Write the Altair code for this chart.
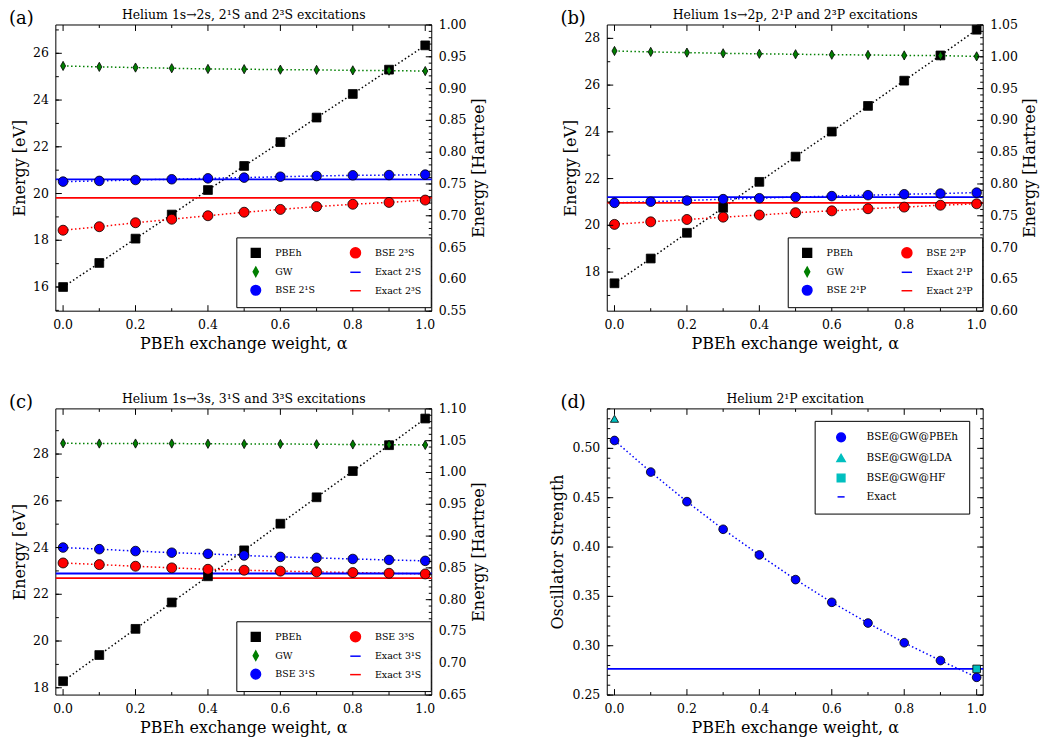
import altair as alt
import pandas as pd

HA = 27.2114
FONT = "DejaVu Serif"
W, H = 377, 287
XDOM = [-0.02, 1.018]
DIAMOND = "M0,-1L0.55,0L0,1L-0.55,0Z"
CYAN = "#00BFBF"
GREEN = "#007F00"

alpha = [0.0, 0.1, 0.2, 0.3, 0.4, 0.5, 0.6, 0.7, 0.8, 0.9, 1.0]

# ---- panel (a): 1s->2s ----
a_names = ["PBEh", "GW", "BSE 2¹S", "BSE 2³S"]
a_pbeh = [16.00, 17.03, 18.07, 19.10, 20.15, 21.18, 22.20, 23.25, 24.26, 25.30, 26.34]
a_gw = [25.46, 25.42, 25.39, 25.36, 25.33, 25.32, 25.30, 25.29, 25.27, 25.26, 25.24]
a_bse1 = [20.51, 20.54, 20.58, 20.61, 20.65, 20.68, 20.72, 20.75, 20.78, 20.79, 20.81]
a_bse3 = [18.43, 18.58, 18.75, 18.90, 19.05, 19.20, 19.32, 19.44, 19.54, 19.62, 19.72]
a_exact_names = ["Exact 2¹S", "Exact 2³S"]
a_exact = [20.61, 19.81]

# ---- panel (b): 1s->2p ----
b_names = ["PBEh", "GW", "BSE 2¹P", "BSE 2³P"]
b_pbeh = [17.52, 18.58, 19.68, 20.75, 21.86, 22.94, 24.01, 25.11, 26.19, 27.27, 28.37]
b_gw = [27.46, 27.42, 27.39, 27.36, 27.34, 27.32, 27.30, 27.29, 27.27, 27.26, 27.23]
b_bse1 = [20.96, 21.01, 21.06, 21.12, 21.16, 21.21, 21.25, 21.29, 21.33, 21.36, 21.40]
b_bse3 = [20.04, 20.15, 20.25, 20.35, 20.44, 20.54, 20.62, 20.71, 20.78, 20.86, 20.92]
b_exact_names = ["Exact 2¹P", "Exact 2³P"]
b_exact = [21.21, 20.96]

# ---- panel (c): 1s->3s ----
c_names = ["PBEh", "GW", "BSE 3¹S", "BSE 3³S"]
c_pbeh = [18.28, 19.40, 20.52, 21.65, 22.77, 23.88, 25.02, 26.15, 27.27, 28.38, 29.52]
c_gw = [28.46, 28.45, 28.45, 28.45, 28.44, 28.43, 28.43, 28.42, 28.41, 28.40, 28.39]
c_bse1 = [24.00, 23.93, 23.85, 23.78, 23.73, 23.66, 23.60, 23.56, 23.51, 23.47, 23.43]
c_bse3 = [23.34, 23.27, 23.20, 23.13, 23.07, 23.03, 22.99, 22.96, 22.93, 22.90, 22.87]
c_exact_names = ["Exact 3¹S", "Exact 3³S"]
c_exact = [22.89, 22.69]

# ---- panel (d): oscillator strength ----
d_names = ["BSE@GW@PBEh", "BSE@GW@LDA", "BSE@GW@HF", "Exact"]
d_pbeh = [0.508, 0.476, 0.446, 0.418, 0.392, 0.367, 0.344, 0.323, 0.303, 0.285, 0.268]
d_lda_alpha = [0.0]
d_lda = [0.530]
d_hf_alpha = [1.0]
d_hf = [0.2765]
d_exact = [0.2765]

# ---- tick values / labels ----
x_major = [0.0, 0.2, 0.4, 0.6, 0.8, 1.0]
x_minor = [0.1, 0.3, 0.5, 0.7, 0.9]
x_labels = ["0.0", "0.2", "0.4", "0.6", "0.8", "1.0"]
X_TITLE = "PBEh exchange weight, α"
TICK_FS = 12.5


def steps(lo, hi, step):
    n = int(round((hi - lo) / step))
    return [round(lo + i * step, 4) for i in range(n + 1)]


def xs():
    return alt.Scale(domain=XDOM, nice=False, zero=False)


def txt(df, **mk):
    base = dict(font=FONT, color="black")
    base.update(mk)
    return alt.Chart(df).mark_text(**base)


def x_guides():
    out = []
    for vals, ln in [(x_major, 6), (x_minor, 3)]:
        base = alt.Chart(pd.DataFrame({"t": vals})).mark_rule(color="black", strokeWidth=1)
        out.append(base.encode(x=alt.X("t:Q", scale=xs(), axis=None), y=alt.value(H), y2=alt.value(H - ln)))
        out.append(base.encode(x=alt.X("t:Q", scale=xs(), axis=None), y=alt.value(0), y2=alt.value(ln)))
    out.append(txt(pd.DataFrame({"t": x_major, "lab": x_labels}), fontSize=TICK_FS, align="center",
                   baseline="alphabetic").encode(
        x=alt.X("t:Q", scale=xs(), axis=None), y=alt.value(H + 18), text="lab:N"))
    out.append(txt(pd.DataFrame({"lab": [X_TITLE]}), fontSize=16, align="center",
                   baseline="alphabetic").encode(
        x=alt.value(W / 2), y=alt.value(H + 38), text="lab:N"))
    return out


def y_ticks(major, minor, scale, side):
    out = []
    for vals, ln in [(major, 6), (minor, 3)]:
        base = alt.Chart(pd.DataFrame({"t": vals})).mark_rule(color="black", strokeWidth=1)
        if side == "left":
            out.append(base.encode(y=alt.Y("t:Q", scale=scale, axis=None), x=alt.value(0), x2=alt.value(ln)))
        else:
            out.append(base.encode(y=alt.Y("t:Q", scale=scale, axis=None), x=alt.value(W - ln), x2=alt.value(W)))
    return out


def y_labels(major, labels, scale, side):
    df = pd.DataFrame({"t": major, "lab": labels})
    if side == "left":
        return txt(df, fontSize=TICK_FS, align="right", baseline="middle").encode(
            y=alt.Y("t:Q", scale=scale, axis=None), x=alt.value(-7), text="lab:N")
    return txt(df, fontSize=TICK_FS, align="left", baseline="middle").encode(
        y=alt.Y("t:Q", scale=scale, axis=None), x=alt.value(W + 7), text="lab:N")


def v_title(label, xpos):
    return txt(pd.DataFrame({"lab": [label]}), fontSize=16, align="center", baseline="alphabetic",
               angle=270).encode(x=alt.value(xpos), y=alt.value(H / 2), text="lab:N")


def frame_layer():
    return alt.Chart(pd.DataFrame({"k": [0]})).mark_rect(fill=None, stroke="black", strokeWidth=1).encode(
        x=alt.value(0), x2=alt.value(W), y=alt.value(0), y2=alt.value(H))


def head_layers(letter, title):
    return [
        txt(pd.DataFrame({"lab": [letter]}), fontSize=18, align="left", baseline="alphabetic").encode(
            x=alt.value(-47), y=alt.value(-1), text="lab:N"),
        txt(pd.DataFrame({"lab": [title]}), fontSize=12.5, align="center", baseline="alphabetic").encode(
            x=alt.value(W / 2), y=alt.value(-6), text="lab:N"),
    ]


def energy_panel(letter, title, names, vals, ex_names, ex_vals, ha_dom, ev_major, label_expr=None):
    ydom = [ha_dom[0] * HA, ha_dom[1] * HA]
    ys = alt.Scale(domain=ydom, nice=False, zero=False)
    hs = alt.Scale(domain=ha_dom, nice=False, zero=False)
    order = [names[0], names[1], names[2], names[3], ex_names[0], ex_names[1]]
    cmap = {names[0]: "black", names[1]: GREEN, names[2]: "blue", names[3]: "red",
            ex_names[0]: "blue", ex_names[1]: "red"}
    smap = {names[0]: "square", names[1]: DIAMOND, names[2]: "circle", names[3]: "circle",
            ex_names[0]: "stroke", ex_names[1]: "stroke"}
    zmap = {names[0]: 78, names[1]: 115, names[2]: 76, names[3]: 76, ex_names[0]: 76, ex_names[1]: 76}
    col_s = alt.Scale(domain=order, range=[cmap[n] for n in order])
    shp_s = alt.Scale(domain=order, range=[smap[n] for n in order])
    siz_s = alt.Scale(domain=order, range=[zmap[n] for n in order])

    rows = []
    for n, v in zip(names, vals):
        for a, e in zip(alpha, v):
            rows.append({"alpha": a, "E": e, "series": n})
    df = pd.DataFrame(rows)
    dfe = pd.DataFrame({"E": ex_vals, "series": ex_names})

    legkw = dict(orient="none", legendX=181, legendY=213, columns=2, title=None,
                 strokeColor="black", fillColor="white", padding=9, labelFont=FONT,
                 labelFontSize=9.5, symbolSize=72, symbolStrokeWidth=1.5, rowPadding=2,
                 columnPadding=30, labelOffset=13, symbolOffset=4, cornerRadius=0,
                 labelColor="black")
    if label_expr:
        legkw["labelExpr"] = label_expr
    leg = alt.Legend(**legkw)

    lines = alt.Chart(df).mark_line(strokeDash=[1.5, 2.5], strokeWidth=1.5).encode(
        x=alt.X("alpha:Q", scale=xs(), axis=None),
        y=alt.Y("E:Q", scale=ys, axis=None),
        stroke=alt.Stroke("series:N", scale=col_s, legend=leg),
        detail="series:N",
    )
    exact = alt.Chart(dfe).mark_rule(strokeWidth=1.8).encode(
        y=alt.Y("E:Q", scale=ys, axis=None),
        stroke=alt.Stroke("series:N", scale=col_s, legend=leg),
    )
    pts = alt.Chart(df).mark_point(filled=True, opacity=1, strokeWidth=0.8).encode(
        x=alt.X("alpha:Q", scale=xs(), axis=None),
        y=alt.Y("E:Q", scale=ys, axis=None),
        fill=alt.Fill("series:N", scale=col_s, legend=leg),
        shape=alt.Shape("series:N", scale=shp_s, legend=leg),
        size=alt.Size("series:N", scale=siz_s, legend=None),
        stroke=alt.value("black"),
    )
    ev_minor = steps(int(ydom[0]) + 1, int(ydom[1]), 1)
    left = alt.layer(frame_layer(), lines, exact, pts, *x_guides(),
                     *y_ticks(ev_major, ev_minor, ys, "left"),
                     y_labels(ev_major, [str(v) for v in ev_major], ys, "left"),
                     v_title("Energy [eV]", -31),
                     *head_layers(letter, title))

    ha_major = steps(ha_dom[0], ha_dom[1], 0.05)
    ha_minor = steps(ha_dom[0], ha_dom[1], 0.01)
    right = alt.layer(*y_ticks(ha_major, ha_minor, hs, "right"),
                      y_labels(ha_major, [f"{v:.2f}" for v in ha_major], hs, "right"),
                      v_title("Energy [Hartree]", W + 52))

    return alt.layer(left, right).resolve_scale(y="independent").properties(width=W, height=H)


pa = energy_panel("(a)", "Helium 1s→2s, 2¹S and 2³S excitations", a_names,
                  [a_pbeh, a_gw, a_bse1, a_bse3], a_exact_names, a_exact, [0.55, 1.00],
                  [16, 18, 20, 22, 24, 26])
pb = energy_panel("(b)", "Helium 1s→2p, 2¹P and 2³P excitations", b_names,
                  [b_pbeh, b_gw, b_bse1, b_bse3], b_exact_names, b_exact, [0.60, 1.05],
                  [18, 20, 22, 24, 26, 28])
pc = energy_panel("(c)", "Helium 1s→3s, 3¹S and 3³S excitations", c_names,
                  [c_pbeh, c_gw, c_bse1, c_bse3], c_exact_names, c_exact, [0.65, 1.10],
                  [18, 20, 22, 24, 26, 28],
                  label_expr="datum.label == 'Exact 3³S' ? 'Exact 3¹S' : datum.label")

# ---- panel (d) ----
D_YDOM = [0.25, 0.54]
d_major = [0.25, 0.30, 0.35, 0.40, 0.45, 0.50]
d_minor = steps(0.25, 0.54, 0.01)
d_labels = ["0.25", "0.30", "0.35", "0.40", "0.45", "0.50"]
dys = alt.Scale(domain=D_YDOM, nice=False, zero=False)
d_col = alt.Scale(domain=d_names, range=["blue", CYAN, CYAN, "blue"])
d_shp = alt.Scale(domain=d_names, range=["circle", "triangle-up", "square", "stroke"])
d_siz = alt.Scale(domain=d_names, range=[76, 50, 80, 76])
d_leg = alt.Legend(orient="none", legendX=208, legendY=12, columns=1, title=None,
                   strokeColor="black", fillColor="white", padding=11, labelFont=FONT,
                   labelFontSize=10.5, symbolSize=64, symbolStrokeWidth=1.5, rowPadding=6,
                   labelOffset=20, cornerRadius=0, symbolOffset=10, labelColor="black")

d_df = pd.DataFrame({"alpha": alpha, "f": d_pbeh, "series": d_names[0]})
d_pts_df = pd.concat([
    d_df,
    pd.DataFrame({"alpha": d_lda_alpha, "f": d_lda, "series": d_names[1]}),
    pd.DataFrame({"alpha": d_hf_alpha, "f": d_hf, "series": d_names[2]}),
], ignore_index=True)
d_ex_df = pd.DataFrame({"f": d_exact, "series": [d_names[3]]})

d_lines = alt.Chart(d_df).mark_line(strokeDash=[1.5, 2.5], strokeWidth=1.5).encode(
    x=alt.X("alpha:Q", scale=xs(), axis=None),
    y=alt.Y("f:Q", scale=dys, axis=None),
    stroke=alt.Stroke("series:N", scale=d_col, legend=d_leg),
)
d_exact_l = alt.Chart(d_ex_df).mark_rule(strokeWidth=1.8).encode(
    y=alt.Y("f:Q", scale=dys, axis=None),
    stroke=alt.Stroke("series:N", scale=d_col, legend=d_leg),
)
d_pts = alt.Chart(d_pts_df).mark_point(filled=True, opacity=1, strokeWidth=0.8).encode(
    x=alt.X("alpha:Q", scale=xs(), axis=None),
    y=alt.Y("f:Q", scale=dys, axis=None),
    fill=alt.Fill("series:N", scale=d_col, legend=d_leg),
    shape=alt.Shape("series:N", scale=d_shp, legend=d_leg),
    size=alt.Size("series:N", scale=d_siz, legend=None),
    stroke=alt.value("black"),
)
pd_ = alt.layer(frame_layer(), d_lines, d_exact_l, d_pts, *x_guides(),
                *y_ticks(d_major, d_minor, dys, "left"),
                *y_ticks(d_major, d_minor, dys, "right"),
                y_labels(d_major, d_labels, dys, "left"),
                v_title("Oscillator Strength", -44),
                *head_layers("(d)", "Helium 2¹P excitation")).properties(width=W, height=H)

chart = alt.concat(pa, pb, pc, pd_, columns=2, spacing={"row": 98, "column": 176}, bounds="flush").resolve_scale(
    fill="independent", stroke="independent", shape="independent", size="independent"
).properties(
    padding={"left": 9, "top": 8, "right": 5, "bottom": 5}, background="white"
).configure_view(
    stroke=None
)

chart.save("out.html", embed_options={"renderer": "svg", "actions": False})
